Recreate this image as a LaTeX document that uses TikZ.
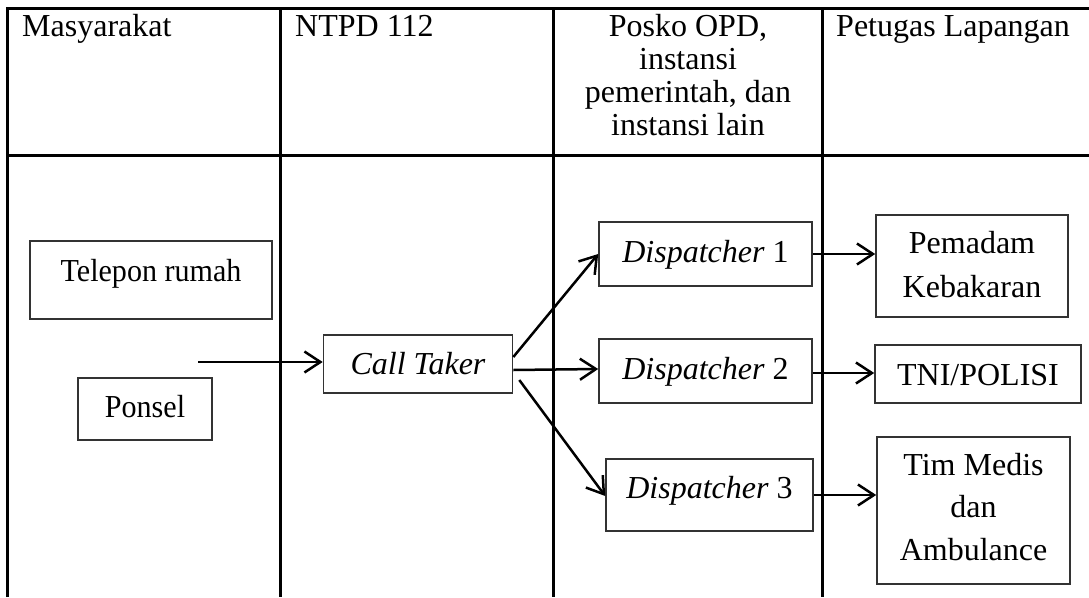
\documentclass[tikz,border=0pt]{standalone}
\usepackage{fontspec}
\setmainfont{Liberation Serif}
\usetikzlibrary{arrows.meta}
\begin{document}
\begin{tikzpicture}[x=1pt,y=-1pt,
  grid/.style={line width=3pt},
  box/.style={draw=black!80, line width=1.6pt, inner sep=0pt},
  flow/.style={line width=2.5pt, -{Straight Barb[length=16pt,width=21pt,line width=2.5pt]}},
  lbl/.style={anchor=base, align=center, inner sep=0pt, font=\fontsize{32}{44}\selectfont},
  head/.style={anchor=base west, inner sep=0pt, font=\fontsize{32}{33}\selectfont}]
\useasboundingbox (0,0) rectangle (1089,597);

% table frame and column rules
\draw[grid] (7,597) -- (7,8) -- (1089,8);
\draw[grid] (7,155) -- (1089,155);
\foreach \x in {280,553,822} \draw[grid] (\x,8) -- (\x,597);

% column headings (multi-line text sits on the baseline of its last line)
\node[head] (h1) at (22,36) {Masyarakat};
\node[head] (h2) at (295,36) {NTPD 112};
\node[head, anchor=base, align=center] (h3) at (688,135) {Posko OPD,\\instansi\\pemerintah, dan\\instansi lain};
\node[head] (h4) at (836,36) {Petugas Lapangan};

% boxes
\node[box, minimum width=242pt, minimum height=78pt] (tel) at (151,280) {};
\node[box, minimum width=134pt, minimum height=62pt] (hp) at (145,409) {};
\node[box, minimum width=189pt, minimum height=58pt] (ct) at (418,364) {};
\node[box, minimum width=213pt, minimum height=64pt] (d1) at (705.5,254) {};
\node[box, minimum width=213pt, minimum height=64pt] (d2) at (705.5,371) {};
\node[box, minimum width=207pt, minimum height=72pt] (d3) at (709.5,495) {};
\node[box, minimum width=192pt, minimum height=102pt] (pm) at (972,266) {};
\node[box, minimum width=206pt, minimum height=58pt] (tni) at (978,374) {};
\node[box, minimum width=193pt, minimum height=147pt] (tm) at (973.5,510.5) {};

% box labels
\node[lbl] (telt) at (151,281) {\scalebox{0.94}[1]{Telepon rumah}};
\node[lbl] (hpt) at (145,417) {\scalebox{0.94}[1]{Ponsel}};
\node[lbl] (ctt) at (418,374) {\textit{Call Taker}};
\node[lbl] (d1t) at (705.5,262) {\textit{Dispatcher} 1};
\node[lbl] (d2t) at (705.5,379) {\textit{Dispatcher} 2};
\node[lbl] (d3t) at (709.5,498) {\textit{Dispatcher} 3};
\node[lbl] (pmt) at (972,297) {Pemadam\\Kebakaran};
\node[lbl] (tnit) at (978,385) {TNI/POLISI};
\node[lbl, font=\fontsize{32}{42.5}\selectfont] (tmt) at (973.5,560) {Tim Medis\\dan\\Ambulance};

% connectors
\coordinate (in) at (198,362);
\draw[flow] (in) -- (ct.west |- in);
\draw[flow] ([yshift=7pt]ct.east) -- (d1.west);
\draw[flow] ([yshift=-6pt]ct.east) -- (d2.west |- 0,369);
\draw[flow] ([xshift=6pt,yshift=-16pt]ct.east) -- ([yshift=-1pt]d3.west);
\draw[flow] (d1.east) -- (pm.west |- d1.east);
\draw[flow] ([yshift=-2pt]d2.east) -- (tni.west |- 0,373);
\draw[flow] (d3.east) -- (tm.west |- d3.east);
\end{tikzpicture}
\end{document}
